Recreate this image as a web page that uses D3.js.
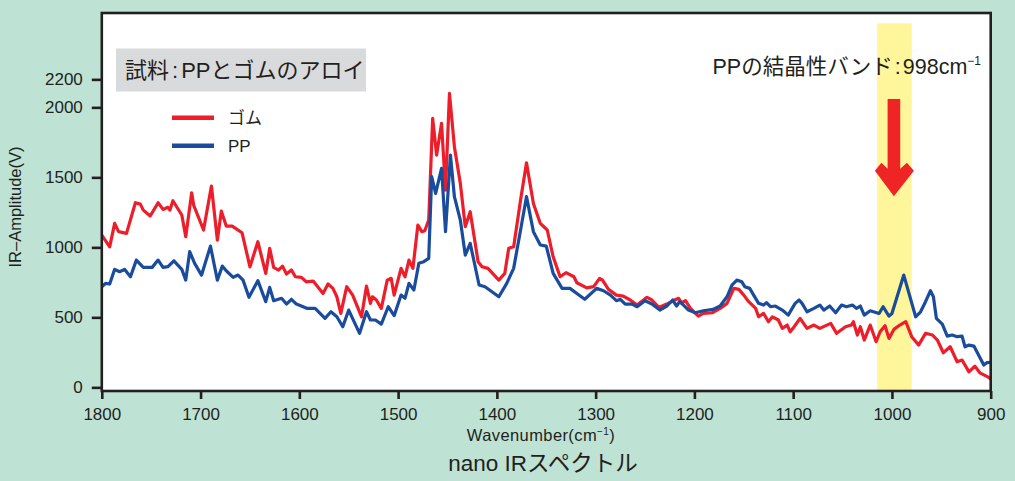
<!DOCTYPE html>
<html><head><meta charset="utf-8">
<script src="https://cdn.jsdelivr.net/npm/d3@7"></script>
<style>
html,body{margin:0;padding:0;background:#bee2d4;}
svg{display:block;}
text{fill:#231f20;}
</style></head>
<body>
<svg id="chart" width="1015" height="481"></svg>
<script>
const xTicks = [1800,1700,1600,1500,1400,1300,1200,1100,1000,900];
const yTicks = [0,500,1000,1500,2000,2200];
const seriesNames = ["ゴム","PP"];

const redWn = [1800,1792,1787,1783,1775,1766,1761,1758,1751,1743,1738,1733,1731,1728,1719,1715,1709,1707,1697,1689,1683,1679,1674,1668,1658,1650,1642,1634,1630,1626,1621,1617,1613,1608,1604,1598,1593,1586,1576,1571,1566,1562,1558,1552,1546,1537,1532,1528,1526,1522,1517,1511,1507,1504,1497,1493,1489,1485,1480,1476,1473,1469,1465,1461,1456,1452,1448,1443,1437,1432,1427,1419,1415,1409,1398,1392,1388,1383,1376,1370,1363,1356,1349,1343,1336,1330,1322,1319,1309,1302,1296,1293,1287,1279,1272,1265,1258,1248,1243,1236,1228,1220,1216,1213,1209,1204,1196,1191,1182,1174,1167,1160,1155,1150,1145,1138,1135,1130,1125,1121,1115,1111,1106,1103,1099,1093,1086,1079,1073,1062,1056,1047,1041,1039,1035,1032,1028,1022,1016,1012,1007,1003,998,992,986,980,973,966,959,954,948,941,934,929,922,916,911,902,900];
const redVal = [1088,1004,1171,1112,1100,1319,1309,1266,1224,1319,1271,1286,1266,1333,1231,1076,1390,1302,1124,1438,1052,1259,1152,1152,1104,861,1040,814,993,857,838,866,809,838,790,786,754,759,671,738,707,647,528,719,659,504,724,600,647,624,564,766,779,659,850,790,909,850,1159,1112,1119,1195,1921,1659,1886,1409,2100,1719,1457,1148,1255,898,862,850,766,814,993,1005,1338,1604,1314,1171,1124,933,790,819,790,747,711,719,779,766,700,659,652,624,588,643,624,571,595,624,636,605,619,564,509,528,533,564,600,707,700,659,612,564,504,528,469,504,481,421,445,397,433,493,421,445,421,457,386,433,445,469,374,433,338,445,326,397,440,350,414,445,469,362,302,386,374,338,247,290,183,195,111,152,104,71,60];

const blueWn = [1800,1796,1792,1787,1782,1777,1771,1765,1758,1749,1743,1738,1733,1727,1719,1715,1711,1706,1699,1690,1683,1678,1674,1667,1662,1657,1651,1642,1634,1630,1626,1618,1613,1608,1603,1598,1592,1584,1574,1568,1562,1556,1550,1544,1539,1532,1528,1523,1517,1510,1504,1497,1493,1489,1484,1479,1474,1469,1466,1462,1456,1452,1447,1443,1437,1432,1427,1418,1412,1398,1390,1383,1376,1370,1363,1356,1350,1343,1334,1326,1319,1311,1299,1292,1285,1279,1275,1270,1263,1258,1250,1243,1235,1228,1222,1218,1215,1211,1206,1199,1191,1181,1174,1167,1162,1157,1152,1149,1144,1140,1135,1130,1127,1123,1118,1111,1105,1098,1094,1091,1086,1079,1073,1069,1063,1057,1051,1046,1040,1036,1032,1028,1022,1013,1009,1003,1000,988,976,971,966,961,958,955,949,944,939,934,929,926,922,917,914,907,904,900];
const blueVal = [719,743,738,843,826,843,790,909,857,857,909,857,862,904,843,766,969,886,802,1009,766,866,833,786,802,766,643,762,612,714,619,636,595,629,595,581,564,564,493,540,504,433,552,461,386,540,481,481,452,576,512,659,636,743,695,886,898,921,1505,1386,1564,1112,1659,1362,1195,945,1029,731,719,647,743,850,1124,1362,1112,1017,1009,814,707,707,671,629,707,690,659,619,629,595,595,576,619,595,552,581,624,581,612,588,552,533,547,557,581,647,731,766,754,719,707,659,600,588,605,576,581,552,516,600,624,600,540,564,588,552,581,533,588,576,588,564,581,516,547,528,576,509,528,802,504,540,612,690,647,493,452,366,374,362,366,290,302,295,254,159,176,178];

const bandRange = [1015, 980];
const bandPeak = 998;

const svg = d3.select("#chart");
const pLeft = 101.8, pRight = 990.7, pTop = 13, pBottom = 391;
const x = d3.scaleLinear().domain([1800, 900]).range([pLeft, pRight]);
const y = d3.scaleLinear().domain([-26, 2674]).range([pBottom, pTop]);
const ink = "#231f20";
const font = "'Liberation Sans', Arial, 'Noto Sans CJK JP', sans-serif";
const jfont = "'Liberation Sans', Arial, 'Noto Sans CJK JP', sans-serif";

svg.append("rect").attr("x", pLeft).attr("y", pTop).attr("width", pRight-pLeft).attr("height", pBottom-pTop).attr("fill", "#fff");

svg.append("rect")
  .attr("x", x(bandRange[0])).attr("width", x(bandRange[1]) - x(bandRange[0]))
  .attr("y", y(2600)).attr("height", pBottom - y(2600))
  .attr("fill", "#fff59b");

svg.append("clipPath").attr("id","clip").append("rect")
  .attr("x", pLeft).attr("y", pTop).attr("width", pRight-pLeft).attr("height", pBottom-pTop);
const line = d3.line().x(d => x(d[0])).y(d => y(d[1]));
const redData = d3.zip(redWn, redVal);
const blueData = d3.zip(blueWn, blueVal);
const g = svg.append("g").attr("clip-path","url(#clip)");
g.append("path").datum(redData).attr("d", line).attr("fill","none")
  .attr("stroke","#ee1d2a").attr("stroke-width",3.2).attr("stroke-linejoin","round");
g.append("path").datum(blueData).attr("d", line).attr("fill","none")
  .attr("stroke","#1a4c9e").attr("stroke-width",3.2).attr("stroke-linejoin","round");

const ax = x(bandPeak);
const aTop = y(2060), aNeck = y(1590), aTip = y(1365);
svg.append("path")
  .attr("d", `M${ax-6.3},${aTop} L${ax+6.3},${aTop} L${ax+6.3},${aNeck+4} L${ax+13},${aNeck-2} L${ax+20},${aNeck+6} L${ax},${aTip} L${ax-19},${aNeck+6} L${ax-12.5},${aNeck-2} L${ax-6.3},${aNeck+4} Z`)
  .attr("fill","#ee2524");

svg.append("rect").attr("x", pLeft).attr("y", pTop).attr("width", pRight-pLeft).attr("height", pBottom-pTop)
  .attr("fill","none").attr("stroke", ink).attr("stroke-width", 2.6);

const yAxis = d3.axisLeft(y).tickValues(yTicks).tickSize(10).tickPadding(9).tickFormat(d3.format("d"));
const ya = svg.append("g").attr("transform", `translate(${pLeft},0)`).call(yAxis);
ya.select(".domain").remove();
ya.selectAll(".tick line").attr("stroke", ink).attr("stroke-width", 2.6);
ya.selectAll(".tick text").attr("font-family", font).attr("font-size", 17).attr("fill", ink);

const xAxis = d3.axisBottom(x).tickValues(xTicks).tickSize(8).tickPadding(9).tickFormat(d3.format("d"));
const xa = svg.append("g").attr("transform", `translate(0,${pBottom})`).call(xAxis);
xa.select(".domain").remove();
xa.selectAll(".tick line").attr("stroke", ink).attr("stroke-width", 2.6);
xa.selectAll(".tick text").attr("font-family", font).attr("font-size", 17).attr("fill", ink);

svg.append("text").attr("transform","translate(21,207) rotate(-90)")
  .attr("text-anchor","middle").attr("font-family", font).attr("font-size", 16.5)
  .text("IR–Amplitude(V)");

const xt = svg.append("text").attr("x", 541).attr("y", 441).attr("text-anchor","middle")
  .attr("font-family", font).attr("font-size", 16.5).attr("letter-spacing", 0.4);
xt.append("tspan").text("Wavenumber(cm");
xt.append("tspan").attr("font-size", 10).attr("dy", -6).text("−1");
xt.append("tspan").attr("dy", 6).text(")");

svg.append("text").attr("x", 543).attr("y", 471).attr("text-anchor","middle")
  .attr("font-family", jfont).attr("font-size", 22.5).text("nano IRスペクトル");

svg.append("rect").attr("x",116).attr("y",48.5).attr("width",250).attr("height",43).attr("fill","#d9dadc");
const tt = svg.append("text").attr("x",125).attr("y",78).attr("font-family", jfont).attr("font-size",22);
tt.append("tspan").text("試料");
tt.append("tspan").attr("dx",3).text(":");
tt.append("tspan").attr("dx",3).text("PPとゴムのアロイ");

const legColors = ["#ee1d2a","#1a4c9e"];
seriesNames.forEach((n,i) => {
  const ly = 117.7 + i*28;
  svg.append("line").attr("x1",172).attr("x2",214).attr("y1",ly).attr("y2",ly)
    .attr("stroke",legColors[i]).attr("stroke-width",4.5);
  svg.append("text").attr("x",228).attr("y",ly+6).attr("font-family", jfont).attr("font-size",17).text(n);
});

const an = svg.append("text").attr("x",981).attr("y",74).attr("text-anchor","end")
  .attr("font-family", jfont).attr("font-size",21.5);
an.append("tspan").text("PPの結晶性バンド");
an.append("tspan").attr("dx",2).text(":");
an.append("tspan").attr("dx",2).text("998cm");
an.append("tspan").attr("font-size",12).attr("dy",-9).text("−1");
</script>
</body></html>
